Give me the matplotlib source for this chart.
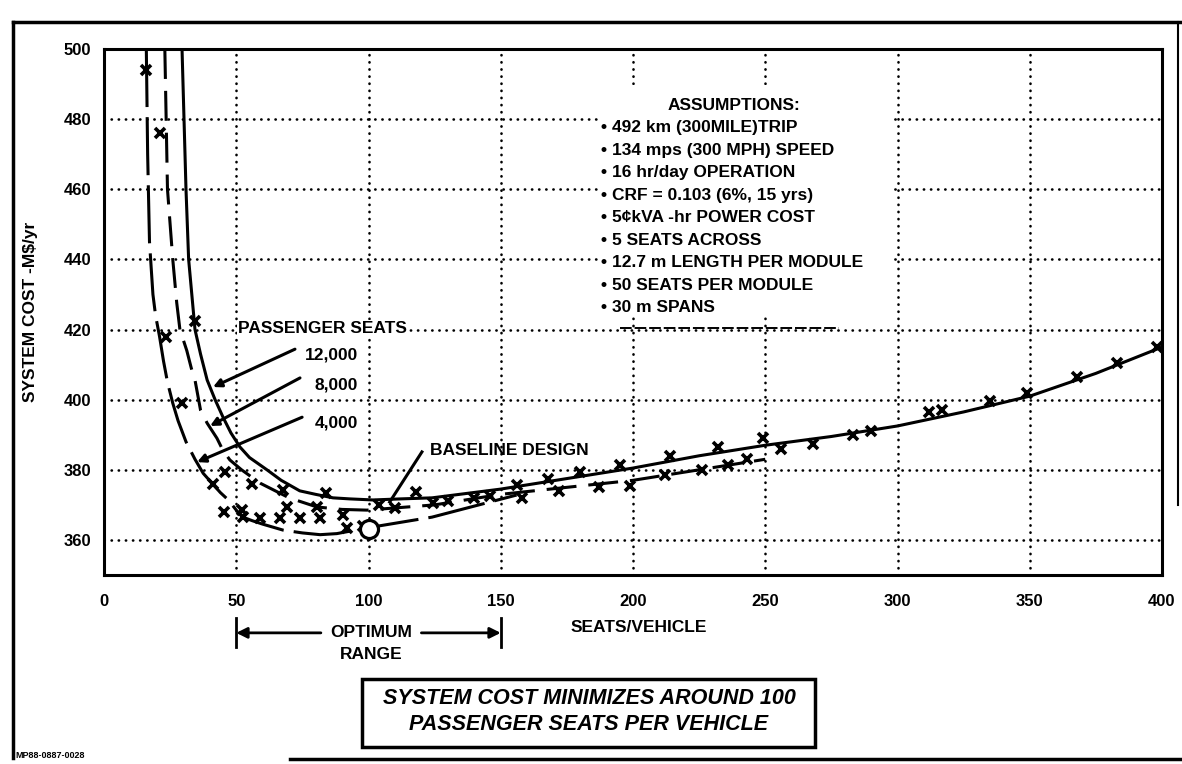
import matplotlib.pyplot as plt
from matplotlib.lines import Line2D
from matplotlib.patches import Rectangle

# system cost vs. vehicle size, one curve per fleet size (passenger seats)
seats_12k = [29.5, 31, 32, 34.4, 36.5, 39, 42, 45, 48, 51.4, 55, 61.6, 67, 74, 80, 86.6, 93,
             101.7, 112, 124, 150, 175, 200, 225, 250, 275, 300, 325, 350, 375, 400]
cost_12k = [500, 460, 440, 420, 413, 405.6, 400, 395, 390.5, 386.5, 383.5, 380, 377, 374, 373,
            372, 371.7, 371.4, 371.7, 372, 374.5, 377.5, 380.5, 384, 387, 389.5, 392.5, 396.5,
            401, 407.5, 415]

seats_8k = [23, 24, 26, 27.5, 28.7, 30, 31.3, 33, 34.4, 36.5, 39, 42.7, 45, 47.6, 52, 59,
            70, 80.5, 90, 99.4, 125, 150, 175, 200, 225, 250]
cost_8k = [500, 460, 440, 427.6, 420, 417, 414, 409, 405.6, 397, 393.3, 389, 385.5, 382.8, 380,
           376.2, 372, 369.4, 368.7, 368.5, 370, 373, 375, 377, 380, 383]

seats_4k = [16, 16.5, 17.2, 18.5, 19.5, 21, 22.5, 24, 26, 28, 31, 34.4, 37.5, 40.8, 44, 47,
            50, 52.5, 56, 60, 67.7, 75, 81.7, 88, 93, 100, 124, 156]
cost_4k = [500, 470, 445, 430, 424, 418, 411, 405, 399, 394, 388, 383, 379, 376.2, 373.5,
           371.4, 368.5, 366.5, 365.5, 364.5, 362.8, 362, 361.5, 361.8, 362.5, 363.5, 366.5, 372.8]

# computed cases (x marks)
pts_x = [16, 21, 23.5, 29.5, 34.4, 41.2, 45.7, 45.5, 52, 56, 67.5, 84, 69, 80.5,
         52.5, 59, 66.5, 74, 81.5, 90.5, 92, 98, 104, 110, 118, 124.5, 130, 140, 146,
         156, 158, 168, 180, 195, 214, 232, 249, 256, 268, 283, 290, 312, 317, 335,
         349, 368, 383, 398, 172, 187, 199, 212, 226, 236, 243]
pts_y = [494, 476, 418, 399, 422.5, 376, 379.4, 368, 368.5, 376, 374.2, 373.4, 369.4, 369.4,
         366.5, 366.2, 366.2, 366.2, 366.2, 367, 363.4, 364, 370, 369, 373.7, 370.5, 371, 372,
         372.5, 375.7, 372, 377.5, 379.5, 381.5, 384, 386.5, 389, 386, 387.5, 390, 391, 396.5,
         397, 399.5, 402, 406.5, 410.5, 415, 374, 375, 375.5, 378.5, 380, 381.5, 383]

baseline = (100, 363)

x_ticks = [0, 50, 100, 150, 200, 250, 300, 350, 400]
y_ticks = [360, 380, 400, 420, 440, 460, 480, 500]

assumptions = [
    "492 km (300MILE)TRIP",
    "134 mps (300 MPH) SPEED",
    "16 hr/day OPERATION",
    "CRF = 0.103 (6%, 15 yrs)",
    "5\u00a2kVA -hr POWER COST",
    "5 SEATS ACROSS",
    "12.7 m LENGTH PER MODULE",
    "50 SEATS PER MODULE",
    "30 m SPANS",
]

plt.rcParams['font.family'] = ['Liberation Sans', 'DejaVu Sans']
plt.rcParams['font.weight'] = 'bold'

W, H = 1182, 764
fig = plt.figure(figsize=(W / 100, H / 100), dpi=100)
ax = fig.add_axes([104 / W, 1 - 575 / H, 1058 / W, 526 / H])


def fpx(x, y):
    return x / W, 1 - y / H


ax.set_xlim(0, 400)
ax.set_ylim(350, 500)
ax.set_xticks(x_ticks)
ax.set_yticks(y_ticks)
ax.tick_params(length=0, labelsize=12)
ax.tick_params(axis='x', pad=14)
ax.tick_params(axis='y', pad=9)
for lab in ax.get_xticklabels() + ax.get_yticklabels():
    lab.set_fontweight('bold')
for s in ax.spines.values():
    s.set_linewidth(2.2)

dots = (0, (0.1, 2.6))
for gx in x_ticks[1:-1]:
    ax.axvline(gx, color='black', lw=1.9, ls=dots, dash_capstyle='round', zorder=0)
for gy in y_ticks[:-1]:
    ax.axhline(gy, color='black', lw=1.9, ls=dots, dash_capstyle='round', zorder=0)

# blank area behind the assumptions list
ax.add_patch(Rectangle((187.5, 423.8), 109.5, 66, facecolor='white', edgecolor='none', zorder=1))
ax.plot([195, 278], [420.5, 420.5], color='black', lw=1.4, ls=(0, (6, 1.5)), zorder=1)

ax.plot(seats_12k, cost_12k, color='black', lw=2.2, zorder=3)
ax.plot(seats_8k, cost_8k, color='black', lw=2.2, ls=(0, (9.8, 3.9)), zorder=3)
ax.plot(seats_4k, cost_4k, color='black', lw=2.2, ls=(0, (19, 3.3)), zorder=3)
ax.plot(pts_x, pts_y, ls='none', marker='x', ms=7.5, mew=2.6, color='black', zorder=4)
ax.plot(*baseline, ls='none', marker='o', ms=13, mfc='white', mec='black', mew=2.3, zorder=5)

txt = dict(fontsize=12.5, fontweight='bold', color='black', zorder=6)
ax.text(50.7, 420.4, "PASSENGER SEATS", ha='left', va='center',
        bbox=dict(facecolor='white', edgecolor='none', pad=0.5), **txt)
ax.text(96, 412.7, "12,000", ha='right', va='center', **txt)
ax.text(96, 404.2, "8,000", ha='right', va='center', **txt)
ax.text(96, 393.3, "4,000", ha='right', va='center', **txt)
leader = dict(arrowstyle='-|>', color='black', lw=2.2, mutation_scale=12, shrinkA=0, shrinkB=0)
ax.annotate("", xy=(41.2, 403.6), xytext=(72.2, 414.4), arrowprops=leader, zorder=6)
ax.annotate("", xy=(40.1, 392.5), xytext=(74.1, 406.2), arrowprops=leader, zorder=6)
ax.annotate("", xy=(35.2, 382.2), xytext=(74.9, 395.0), arrowprops=leader, zorder=6)

ax.text(123.3, 385.6, "BASELINE DESIGN", ha='left', va='center', **txt)
ax.plot([120.2, 108], [385.1, 370.8], color='black', lw=2.2, zorder=6)

ax.text(238, 484, "ASSUMPTIONS:", ha='center', va='center', **txt)
for i, line in enumerate(assumptions):
    yy = 500 - (128 + 22.5 * i - 49) / 3.507
    ax.text(189, yy, "\u2022", ha='center', va='center', **txt)
    ax.text(192, yy, line, ha='left', va='center', **txt)

ax.set_ylabel("SYSTEM COST -M\\$/yr", fontsize=12.5, fontweight='bold')
ax.yaxis.set_label_coords(-0.062, 0.5)
ax.text(202, -0.099, "SEATS/VEHICLE", transform=ax.get_xaxis_transform(),
        ha='center', va='center', fontsize=12.5, fontweight='bold')

# optimum range bracket under the x axis
xt = ax.get_xaxis_transform()
ax.text(101, -0.110, "OPTIMUM", transform=xt, ha='center', va='center', fontsize=12.5,
        fontweight='bold')
ax.text(101, -0.152, "RANGE", transform=xt, ha='center', va='center', fontsize=12.5,
        fontweight='bold')
rng = dict(arrowstyle='-|>', color='black', lw=2, mutation_scale=16, shrinkA=0, shrinkB=0)
ax.annotate("", xy=(50, -0.110), xytext=(82, -0.110), xycoords=xt, textcoords=xt,
            arrowprops=rng, annotation_clip=False)
ax.annotate("", xy=(150, -0.110), xytext=(120, -0.110), xycoords=xt, textcoords=xt,
            arrowprops=rng, annotation_clip=False)
for bx in (50, 150):
    ax.plot([bx, bx], [-0.082, -0.137], transform=xt, color='black', lw=2, clip_on=False)

# outer frame and conclusion box
frame = [((13, 22), (1182, 22), 2.5), ((13, 22), (13, 758), 2.5),
         ((1178, 22), (1178, 505), 1.5), ((290, 759), (1182, 759), 2.5)]
for p0, p1, lw in frame:
    a, b = fpx(*p0), fpx(*p1)
    fig.add_artist(Line2D([a[0], b[0]], [a[1], b[1]], color='black', lw=lw))
bx0, by0 = fpx(362, 747)
bx1, by1 = fpx(815, 679)
fig.add_artist(Rectangle((bx0, by0), bx1 - bx0, by1 - by0, transform=fig.transFigure,
                         facecolor='white', edgecolor='black', lw=2.5))
fig.text(*fpx(589, 698), "SYSTEM COST MINIMIZES AROUND 100", ha='center', va='center',
         fontsize=15.5, fontweight='bold', style='italic')
fig.text(*fpx(589, 725), "PASSENGER SEATS PER VEHICLE", ha='center', va='center',
         fontsize=15.5, fontweight='bold', style='italic')
fig.text(*fpx(15, 756), "MP88-0887-0028", ha='left', va='center', fontsize=6.5,
         fontweight='bold')

fig.savefig("out.png", dpi=100)
